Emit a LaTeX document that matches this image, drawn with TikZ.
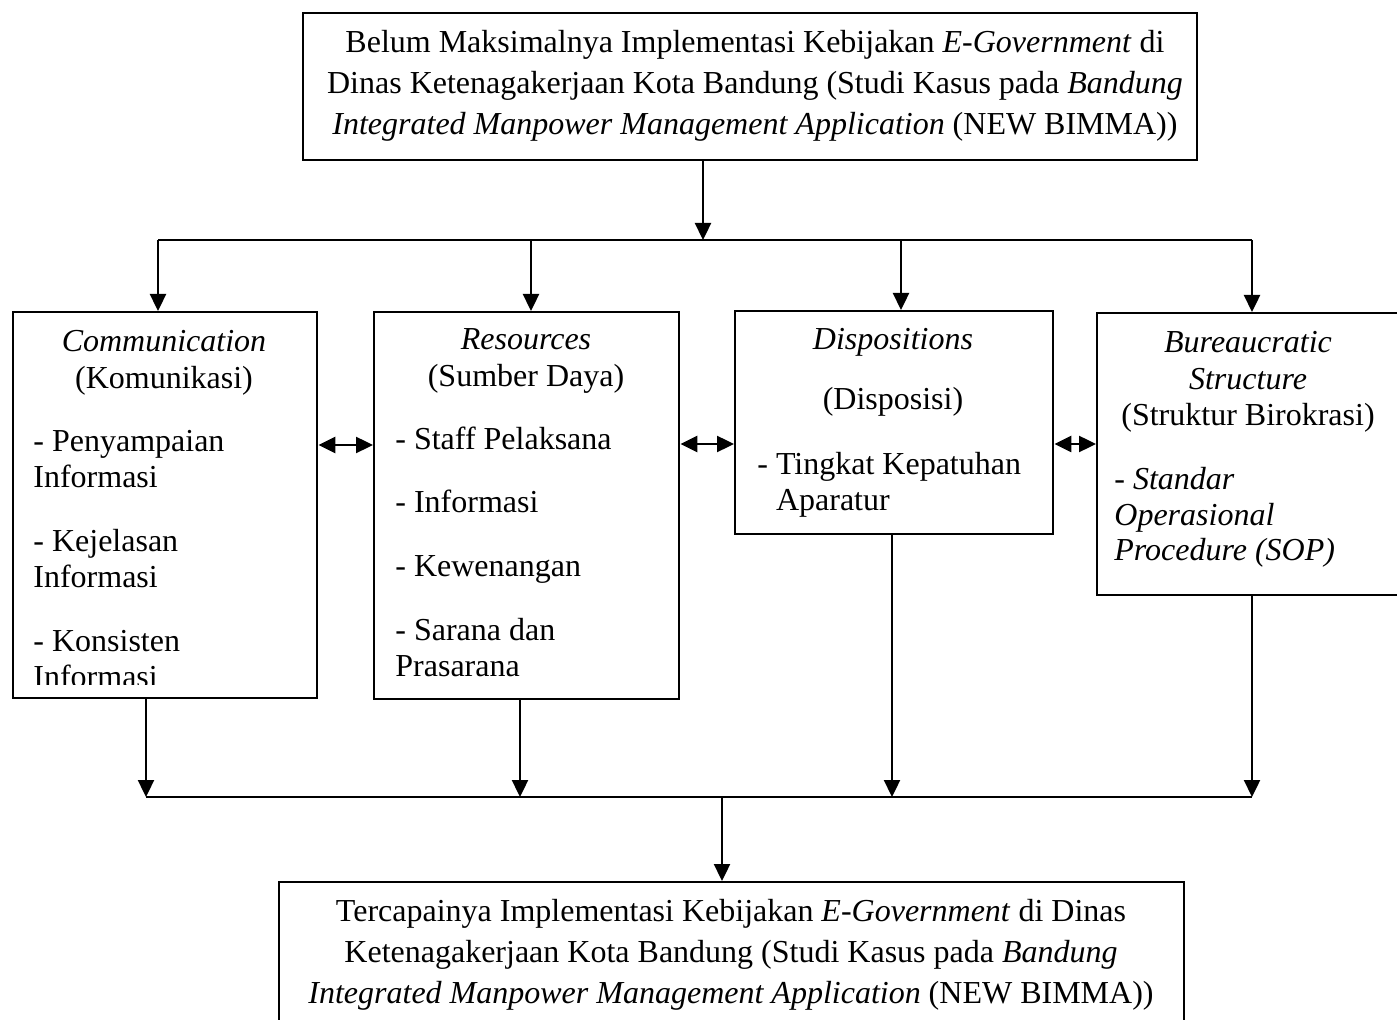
\documentclass[tikz,border=0pt]{standalone}
\usepackage{fontspec}
\setmainfont{Liberation Serif}
\usetikzlibrary{arrows.meta}
\begin{document}
\begin{tikzpicture}[x=0.5pt,y=-0.5pt,
  box/.style={draw, line width=1.2pt, anchor=north west, inner sep=0pt},
  txt/.style={font=\fontsize{16pt}{17.75pt}\selectfont, inner sep=0pt, align=left, anchor=base west},
  hd/.style={font=\fontsize{16pt}{18.25pt}\selectfont, inner sep=0pt, align=center, anchor=base},
  big/.style={font=\fontsize{16pt}{20.5pt}\selectfont, inner sep=0pt, align=center, anchor=base},
  tip/.tip={Triangle[width=8pt,length=8.5pt]},
  arr/.style={-tip, line width=1.2pt},
  darr/.style={tip-tip, line width=1.2pt},
  ln/.style={line width=1.2pt}
]
\useasboundingbox (0,0) rectangle (1397,1020);
\fill[white] (0,0) rectangle (1397,1020);

% boxes
\node[box, minimum width=447pt, minimum height=73.5pt] (top) at (302,12) {};
\node[box, minimum width=152pt, minimum height=193pt] (com) at (12,311) {};
\node[box, minimum width=152.5pt, minimum height=193.5pt] (res) at (373,311) {};
\node[box, minimum width=159pt, minimum height=111.5pt] (dis) at (734,310) {};
\node[box, minimum width=160pt, minimum height=141pt] (bur) at (1096,312) {};
\node[box, minimum width=452.5pt, minimum height=80pt] (bot) at (278,881) {};

% top text (anchor = baseline of last line)
\node[big] (topt) at (755,135) {Belum Maksimalnya Implementasi Kebijakan \textit{E-Government} di\\
Dinas Ketenagakerjaan Kota Bandung (Studi Kasus pada \textit{Bandung}\\
\textit{Integrated Manpower Management Application} (NEW BIMMA))};

% bottom text
\node[big] (bott) at (731,1003) {Tercapainya Implementasi Kebijakan \textit{E-Government} di Dinas\\
Ketenagakerjaan Kota Bandung (Studi Kasus pada \textit{Bandung}\\
\textit{Integrated Manpower Management Application} (NEW BIMMA))};

% communication
\node[hd] (comh) at (164,388.5) {\textit{Communication}\\(Komunikasi)};
\node[txt] (com1) at (33,487.5) {- Penyampaian\\Informasi};
\node[txt] (com2) at (33,587.5) {- Kejelasan\\Informasi};
\begin{scope}
\clip (0,600) rectangle (400,685);
\node[txt] (com3) at (33,687.5) {- Konsisten\\Informasi};
\end{scope}

% resources
\node[hd] (resh) at (526,386.5) {\textit{Resources}\\(Sumber Daya)};
\node[txt] (res1) at (395,450) {- Staff Pelaksana};
\node[txt] (res2) at (395,513) {- Informasi};
\node[txt] (res3) at (395,577) {- Kewenangan};
\node[txt] (res4) at (395,676.5) {- Sarana dan\\Prasarana};

% dispositions
\node[hd] (dish) at (893,350) {\textit{Dispositions}};
\node[hd] (dish2) at (893,410) {(Disposisi)};
\node[txt] (dis1) at (757,510.5) {- Tingkat Kepatuhan\\\hphantom{- }Aparatur};

% bureaucratic
\node[hd] (burh) at (1248,426) {\textit{Bureaucratic}\\\textit{Structure}\\(Struktur Birokrasi)};
\node[txt] (bur1) at (1114,561) {\textit{- Standar}\\\textit{Operasional}\\\textit{Procedure (SOP)}};

% junction coordinates
\coordinate (j0) at (703,240);
\coordinate (h1) at (158,240);
\coordinate (h2) at (531,240);
\coordinate (h3) at (901,240);
\coordinate (h4) at (1252,240);
\coordinate (b1) at (146,797);
\coordinate (b2) at (520,797);
\coordinate (b3) at (892,797);
\coordinate (b4) at (1252,797);
\coordinate (b0) at (722,797);
\coordinate (d1) at (345,445);
\coordinate (d2) at (706,444);
\coordinate (d3) at (1074,444);

% top connectors
\draw[arr] (top.south -| j0) -- (j0);
\draw[ln] (h1) -- (h4);
\draw[arr] (h1) -- (h1 |- com.north);
\draw[arr] (h2) -- (h2 |- res.north);
\draw[arr] (h3) -- (h3 |- dis.north);
\draw[arr] (h4) -- (h4 |- bur.north);

% horizontal double arrows
\draw[darr] (d1 -| com.east) -- (d1 -| res.west);
\draw[darr] (d2 -| res.east) -- (d2 -| dis.west);
\draw[darr] (d3 -| dis.east) -- (d3 -| bur.west);

% bottom connectors
\draw[arr] (com.south -| b1) -- (b1);
\draw[arr] (res.south -| b2) -- (b2);
\draw[arr] (dis.south -| b3) -- (b3);
\draw[arr] (bur.south -| b4) -- (b4);
\draw[ln] (b1) -- (b4);
\draw[arr] (b0) -- (b0 |- bot.north);
\end{tikzpicture}
\end{document}
